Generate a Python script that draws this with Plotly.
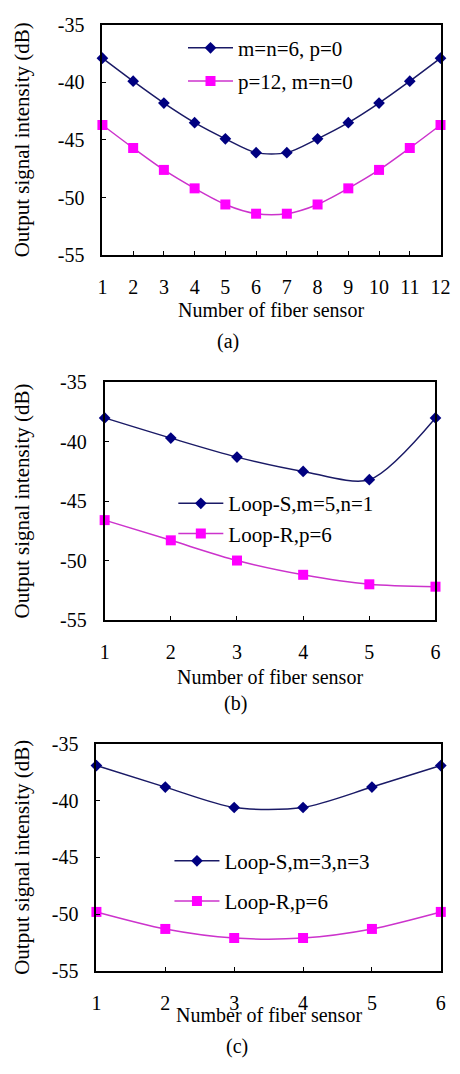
import plotly.graph_objects as go

# ---------------- data ----------------
sensors_a = [1, 2, 3, 4, 5, 6, 7, 8, 9, 10, 11, 12]
a_mesh = [-37.9, -39.9, -41.8, -43.5, -44.9, -46.1, -46.1, -44.9, -43.5, -41.8, -39.9, -37.9]
a_loop = [-43.7, -45.7, -47.6, -49.2, -50.6, -51.4, -51.4, -50.6, -49.2, -47.6, -45.7, -43.7]

sensors_b = [1, 2, 3, 4, 5, 6]
b_loop_s = [-38.0, -39.7, -41.3, -42.5, -43.2, -38.0]
b_loop_r = [-46.6, -48.3, -50.0, -51.2, -52.0, -52.2]

sensors_c = [1, 2, 3, 4, 5, 6]
c_loop_s = [-36.9, -38.8, -40.6, -40.6, -38.8, -36.9]
c_loop_r = [-49.8, -51.3, -52.1, -52.1, -51.3, -49.8]

names_a = ["m=n=6, p=0", "p=12, m=n=0"]
names_b = ["Loop-S,m=5,n=1", "Loop-R,p=6"]
names_c = ["Loop-S,m=3,n=3", "Loop-R,p=6"]
y_ticks = [-35, -40, -45, -50, -55]
panel_labels = ["(a)", "(b)", "(c)"]
x_title = "Number of fiber sensor"
y_title = "Output signal intensity (dB)"

# ---------------- layout helpers ----------------
W, H = 460, 1074
FONT = "Liberation Serif, Times New Roman, serif"
BLUE_LINE = "#1a1a66"
BLUE_MK = "#000080"
PINK_LINE = "#cc33cc"
PINK_MK = "#ff00ff"


def px_x(p):
    return p / W


def px_y(p):
    return 1 - p / H


# panel geometry in pixels: (left, right, top, bottom)
panels = [
    (100.7, 450.2, 14.0, 249.3),
    (103.0, 445.0, 379.0, 621.7),
    (94.5, 450.5, 748.3, 980.0),
]
xtitle_y = [305, 680, 1025]
label_x = [230, 238, 240]
label_y = [337, 707, 1057]
legend_pos = [(184, 17), (174, 482), (170, 847)]
legend_gap = [3, 0, 10]

datasets = [
    (sensors_a, a_mesh, a_loop, names_a),
    (sensors_b, b_loop_s, b_loop_r, names_b),
    (sensors_c, c_loop_s, c_loop_r, names_c),
]

fig = go.Figure()
layout = dict(
    width=W, height=H, margin=dict(l=0, r=0, t=0, b=0),
    paper_bgcolor="white", plot_bgcolor="white",
    font=dict(family=FONT, size=20, color="black"),
    annotations=[],
)

for i, (xs, s1, s2, nm) in enumerate(datasets):
    k = "" if i == 0 else str(i + 1)
    xa, ya = "x" + k, "y" + k
    leg = "legend" + k
    fig.add_trace(go.Scatter(
        x=xs, y=s1, name=nm[0], xaxis=xa, yaxis=ya, legend=leg,
        legendgroup="g1" + k, mode="lines+markers", cliponaxis=False,
        line=dict(color=BLUE_LINE, width=1.5, shape="spline", smoothing=0.8),
        marker=dict(symbol="diamond", size=9, color=BLUE_MK),
    ))
    fig.add_trace(go.Scatter(
        x=xs, y=s2, name=nm[1], xaxis=xa, yaxis=ya, legend=leg,
        legendgroup="g2" + k, mode="lines+markers", cliponaxis=False,
        line=dict(color=PINK_LINE, width=1.5, shape="spline", smoothing=0.8),
        marker=dict(symbol="square", size=10, color=PINK_MK),
    ))
    l, r, t, b = panels[i]
    layout["xaxis" + k] = dict(
        domain=[px_x(l), px_x(r)], anchor=ya, range=[xs[0], xs[-1]],
        tickmode="array", tickvals=xs, ticktext=[str(v) for v in xs],
        ticks="inside", ticklen=4, tickcolor="black", tickwidth=1,
        showline=True, linecolor="black", linewidth=2, mirror=True,
        showgrid=False, zeroline=False, ticklabelstandoff=13,
        tickfont=dict(size=20, family=FONT),
    )
    layout["yaxis" + k] = dict(
        domain=[px_y(b), px_y(t)], anchor=xa, range=[-55, -35],
        tickmode="array", tickvals=y_ticks, ticktext=[str(v) for v in y_ticks],
        ticks="inside", ticklen=4, tickcolor="black", tickwidth=1,
        showline=True, linecolor="black", linewidth=2, mirror=True,
        showgrid=False, zeroline=False, ticklabelstandoff=12,
        tickfont=dict(size=20, family=FONT),
    )
    lx, ly = legend_pos[i]
    layout[leg] = dict(
        x=px_x(lx), y=px_y(ly), xanchor="left", yanchor="top",
        bgcolor="rgba(0,0,0,0)", borderwidth=0, itemwidth=45,
        tracegroupgap=legend_gap[i], font=dict(size=21, family=FONT),
    )
    cx = (l + r) / 2
    layout["annotations"].append(dict(
        text=x_title, xref="paper", yref="paper", x=px_x(cx), y=px_y(xtitle_y[i]),
        xanchor="center", yanchor="middle", showarrow=False,
        font=dict(size=20, family=FONT),
    ))
    layout["annotations"].append(dict(
        text=panel_labels[i], xref="paper", yref="paper", x=px_x(label_x[i]),
        y=px_y(label_y[i]), xanchor="center", yanchor="middle", showarrow=False,
        font=dict(size=20, family=FONT),
    ))
    layout["annotations"].append(dict(
        text=y_title, xref="paper", yref="paper", x=px_x(18), y=px_y((t + b) / 2),
        xanchor="center", yanchor="middle", showarrow=False, textangle=-90,
        font=dict(size=21, family=FONT),
    ))

fig.update_layout(**layout)
fig.write_html("out.html")
